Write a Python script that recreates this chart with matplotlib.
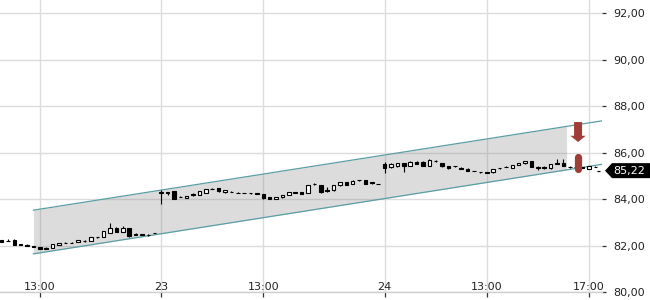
import matplotlib
matplotlib.use("Agg")
import matplotlib.pyplot as plt
import matplotlib.transforms as mtransforms
from matplotlib.patches import FancyArrow, Polygon
import numpy as np

# ---------------- data (15-minute candles, index = candle number) ----------------
opens = [82.22, 82.19, 82.25, 82.05, 82.04, 81.96, 81.94, 81.91, 81.89, 82.03,
         82.11, 82.10, 82.15, 82.21, 82.19, 82.37, 82.36, 82.54, 82.75, 82.58,
         82.75, 82.51, 82.49, 82.45, 82.53,
         84.27, 84.30, 84.34, 84.09, 84.05, 84.20, 84.17, 84.26, 84.45, 84.47,
         84.28, 84.32, 84.27, 84.26, 84.25, 84.25, 84.22, 84.07, 83.99, 84.07,
         84.17, 84.28, 84.29, 84.25, 84.63, 84.60, 84.38, 84.37, 84.59, 84.73,
         84.66, 84.80, 84.82, 84.73, 84.65,
         85.51, 85.37, 85.40, 85.54, 85.42, 85.60, 85.60, 85.43, 85.64, 85.56,
         85.43, 85.40, 85.35, 85.31, 85.20, 85.15, 85.17, 85.15, 85.32, 85.39,
         85.35, 85.46, 85.53, 85.63, 85.39, 85.39, 85.33, 85.56, 85.56, 85.39,
         85.38, 85.38, 85.29, 85.39]
highs = [82.25, 82.27, 82.27, 82.07, 82.05, 81.98, 81.95, 81.92, 82.07, 82.11,
         82.13, 82.15, 82.24, 82.22, 82.38, 82.38, 82.64, 82.97, 82.78, 82.84,
         82.77, 82.53, 82.51, 82.48, 82.54,
         84.39, 84.31, 84.35, 84.15, 84.14, 84.26, 84.35, 84.44, 84.46, 84.48,
         84.39, 84.33, 84.30, 84.27, 84.26, 84.26, 84.23, 84.08, 84.10, 84.19,
         84.31, 84.29, 84.31, 84.61, 84.70, 84.61, 84.50, 84.61, 84.74, 84.75,
         84.80, 84.82, 84.83, 84.74, 84.66,
         85.60, 85.55, 85.56, 85.56, 85.64, 85.62, 85.62, 85.71, 85.67, 85.57,
         85.44, 85.44, 85.36, 85.32, 85.22, 85.16, 85.18, 85.30, 85.35, 85.40,
         85.47, 85.54, 85.63, 85.64, 85.40, 85.40, 85.51, 85.72, 85.71, 85.43,
         85.42, 85.39, 85.43, 85.42]
lows = [82.15, 82.18, 82.02, 82.02, 81.98, 81.93, 81.83, 81.86, 81.88, 82.02,
        82.09, 82.10, 82.14, 82.17, 82.18, 82.31, 82.35, 82.53, 82.56, 82.57,
        82.37, 82.45, 82.44, 82.43, 82.52,
        83.78, 84.18, 83.99, 84.08, 84.04, 84.15, 84.16, 84.25, 84.41, 84.32,
        84.27, 84.28, 84.25, 84.24, 84.23, 84.20, 84.02, 83.98, 83.98, 84.06,
        84.16, 84.26, 84.21, 84.24, 84.62, 84.26, 84.32, 84.36, 84.58, 84.61,
        84.65, 84.79, 84.65, 84.66, 84.64,
        85.13, 85.33, 85.39, 85.18, 85.41, 85.50, 85.42, 85.42, 85.61, 85.39,
        85.27, 85.39, 85.28, 85.19, 85.19, 85.14, 85.11, 85.14, 85.29, 85.36,
        85.34, 85.45, 85.52, 85.38, 85.25, 85.31, 85.27, 85.49, 85.42, 85.34,
        85.37, 85.32, 85.28, 85.37]
closes = [82.17, 82.21, 82.04, 82.03, 81.99, 81.95, 81.84, 81.87, 82.06, 82.10,
          82.10, 82.12, 82.23, 82.18, 82.37, 82.36, 82.62, 82.75, 82.58, 82.75,
          82.41, 82.47, 82.45, 82.44, 82.53,
          84.30, 84.24, 84.00, 84.09, 84.12, 84.16, 84.34, 84.43, 84.42, 84.33,
          84.38, 84.29, 84.26, 84.25, 84.24, 84.21, 84.04, 83.99, 84.09, 84.18,
          84.30, 84.27, 84.22, 84.60, 84.63, 84.29, 84.33, 84.60, 84.73, 84.62,
          84.79, 84.80, 84.66, 84.67, 84.65,
          85.35, 85.49, 85.54, 85.44, 85.60, 85.51, 85.43, 85.69, 85.64, 85.40,
          85.32, 85.40, 85.29, 85.20, 85.20, 85.15, 85.12, 85.29, 85.32, 85.37,
          85.46, 85.53, 85.62, 85.39, 85.33, 85.32, 85.50, 85.50, 85.43, 85.38,
          85.38, 85.33, 85.42, 85.38]

last_price = 85.22
last_price_label = "85,22"

x_tick_idx = [6, 25, 41, 60, 76, 92]
x_tick_labels = ["13:00", "23", "13:00", "24", "13:00", "17:00"]
y_ticks = [80, 82, 84, 86, 88, 90, 92]
y_tick_labels = ["80,00", "82,00", "84,00", "86,00", "88,00", "90,00", "92,00"]

# regression channel
channel_idx = [5, 94]
channel_upper = [83.52, 87.36]
channel_lower = [81.64, 85.49]
channel_fill_end = 88.5

# sell signal markers
signal_idx = 90.3
arrow_top, arrow_tip = 87.31, 86.45
bar_top, bar_bottom = 85.94, 85.12

# ---------------- figure ----------------
W, H = 650, 300
fig = plt.figure(figsize=(W / 100, H / 100), dpi=100)
AX_RIGHT_PX = 602
ax = fig.add_axes([0, 8 / H, AX_RIGHT_PX / W, 292 / H])

PX_A, PX_B = 1.5, 6.385
ax.set_xlim(-PX_A / PX_B, (AX_RIGHT_PX - PX_A) / PX_B)
ax.set_ylim(80, 92.56)

grid_c = "#dcdcdc"
ax.set_xticks(x_tick_idx)
ax.set_xticklabels(x_tick_labels)
ax.set_yticks(y_ticks)
ax.set_yticklabels(y_tick_labels)
ax.grid(True, color=grid_c, linewidth=1.0, zorder=0)
ax.set_axisbelow(True)

for s in ["top", "left", "right"]:
    ax.spines[s].set_visible(False)
ax.spines["bottom"].set_color("#cfcfcf")
ax.spines["bottom"].set_linewidth(1.0)

ax.yaxis.tick_right()
ax.tick_params(axis="y", direction="out", length=3, width=0.9, color="#333333",
               pad=5, labelsize=8, labelcolor="#222222")
ax.tick_params(axis="x", direction="out", length=3.6, width=0.9, color="#333333",
               pad=-10.5, labelsize=8, labelcolor="#222222")

# channel
xs = np.array(channel_idx, dtype=float)
teal = "#5a9ea5"
fx = np.array([channel_idx[0], channel_fill_end])
fu = np.interp(fx, xs, channel_upper)
fl = np.interp(fx, xs, channel_lower)
ax.fill_between(fx, fl, fu, color=(0.5, 0.5, 0.5), alpha=0.27, linewidth=0, zorder=1)
ax.plot(xs, channel_upper, color=teal, linewidth=0.9, zorder=2)
ax.plot(xs, channel_lower, color=teal, linewidth=0.9, zorder=2)

# candles
o = np.array(opens); h = np.array(highs); l = np.array(lows); c = np.array(closes)
idx = np.arange(len(o))
up = c >= o
ax.vlines(idx, l, h, color="black", linewidth=0.8, zorder=3)
bottoms = np.minimum(o, c)
heights = np.abs(c - o)
ax.bar(idx, heights, bottom=bottoms, width=0.55,
       color=np.where(up, "white", "black"), edgecolor="black",
       linewidth=0.8, zorder=4)

# last-price dash
ax.hlines(last_price, len(o) - 1 + 0.3, len(o) - 1 + 0.75, color="black",
          linewidth=0.9, zorder=4)

# signals
red = "#a03d37"
arr = FancyArrow(signal_idx, arrow_top, 0, arrow_tip - arrow_top, width=1.25,
                 head_width=2.4, head_length=0.27, length_includes_head=True,
                 color=red, linewidth=0, zorder=5)
ax.add_patch(arr)
cap = 3.5 / 23.25
ax.plot([signal_idx, signal_idx], [bar_top - cap, bar_bottom + cap], color=red,
        linewidth=5.2, solid_capstyle="round", zorder=5)

# price tag
tr = mtransforms.blended_transform_factory(fig.transFigure, ax.transData)
hh = 7.5 / 23.25
tag = Polygon([[605 / W, last_price], [612 / W, last_price + hh], [1.0, last_price + hh],
               [1.0, last_price - hh], [612 / W, last_price - hh]],
              closed=True, transform=tr, facecolor="black", edgecolor="none",
              clip_on=False, zorder=6)
fig.add_artist(tag)
fig.text(613.5 / W, last_price, last_price_label, transform=tr, color="white",
         fontsize=8, va="center", ha="left", zorder=7)

fig.savefig("out.png", dpi=100)
